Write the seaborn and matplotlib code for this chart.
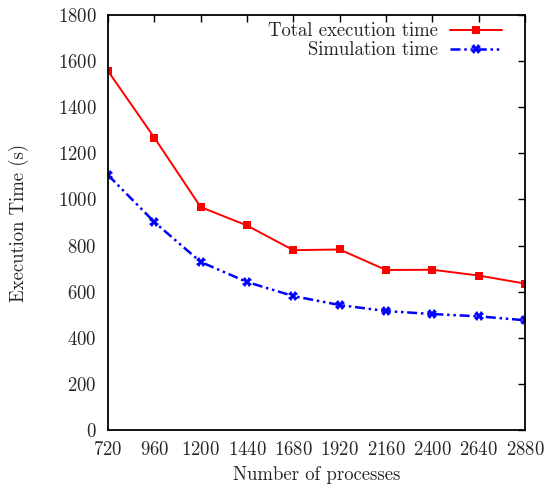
import matplotlib
matplotlib.use("Agg")
import matplotlib.pyplot as plt
import seaborn as sns
import pandas as pd

# data
processes = [720, 960, 1200, 1440, 1680, 1920, 2160, 2400, 2640, 2880]
total_time = [1557, 1268, 967, 887, 780, 783, 694, 695, 670, 635]
sim_time = [1106, 902, 729, 642, 581, 542, 516, 503, 493, 476]

sns.set_theme(style="white")
plt.rcParams['font.family'] = ['cmr10', 'DejaVu Serif']
plt.rcParams['axes.formatter.use_mathtext'] = True
plt.rcParams['mathtext.fontset'] = 'cm'

fig = plt.figure(figsize=(5.47, 4.91), dpi=100)
ax = fig.add_axes([0.1974, 0.1242, 0.7624, 0.8453])

df = pd.DataFrame({"procs": processes, "total": total_time, "sim": sim_time})

sns.lineplot(data=df, x="procs", y="total", ax=ax, color="#ff0000",
             marker="s", markersize=6, markeredgewidth=0, linewidth=1.4,
             label="Total execution time")
sns.lineplot(data=df, x="procs", y="sim", ax=ax, color="#0000ff",
             marker="X", markersize=7, markeredgewidth=0, linewidth=1.8,
             dashes=False, label="Simulation time")
ax.lines[1].set_dashes([4, 1.5, 1, 1.5, 1, 1.5])

ax.set_xlim(720, 2880)
ax.set_ylim(0, 1800)
ax.set_xticks(processes)
ax.set_yticks(range(0, 1801, 200))
ax.set_xlabel("Number of processes", fontsize=13.5, labelpad=5)
ax.set_ylabel("Execution Time (s)", fontsize=13.5, labelpad=21)
ax.tick_params(direction="in", length=5, width=1, top=True, right=True,
               labelsize=13.5, pad=8, color="black")
for s in ax.spines.values():
    s.set_linewidth(1.3)
    s.set_color("black")

leg = ax.legend(loc="upper right", bbox_to_anchor=(0.963, 1.0),
                frameon=False, markerfirst=False, fontsize=13.5,
                handlelength=2.8, handletextpad=0.6, borderaxespad=0,
                labelspacing=0.05)

fig.savefig("out.png", dpi=100)
